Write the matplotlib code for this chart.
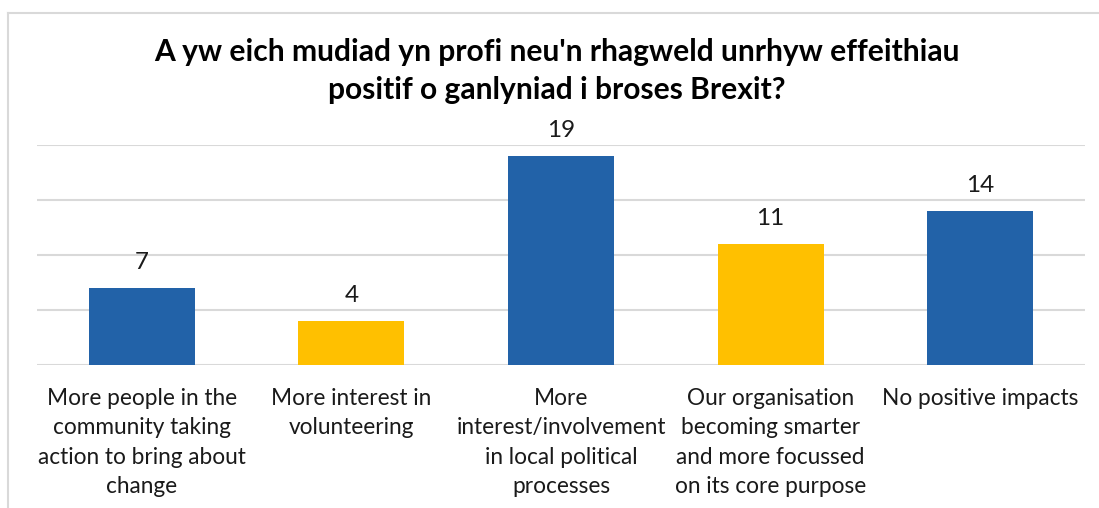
import matplotlib
matplotlib.use("Agg")
import matplotlib.pyplot as plt
from matplotlib.lines import Line2D

categories = [
    "More people in the\ncommunity taking\naction to bring about\nchange",
    "More interest in\nvolunteering",
    "More\ninterest/involvement\nin local political\nprocesses",
    "Our organisation\nbecoming smarter\nand more focussed\non its core purpose",
    "No positive impacts",
]
values = [7, 4, 19, 11, 14]
bar_colors = ["#2262A8", "#FFC000", "#2262A8", "#FFC000", "#2262A8"]
title_lines = [
    "A yw eich mudiad yn profi neu'n rhagweld unrhyw effeithiau",
    "positif o ganlyniad i broses Brexit?",
]

W, H = 1099, 508
plt.rcParams['font.family'] = ['Lato', 'DejaVu Sans']
fig = plt.figure(figsize=(W / 100, H / 100), dpi=100)

left, right, bottom, top = 37, 1085, 365, 145
ax = fig.add_axes([left / W, 1 - bottom / H, (right - left) / W, (bottom - top) / H])

x = list(range(len(categories)))
ax.bar(x, values, width=0.505, color=bar_colors, zorder=3)
ax.set_xlim(-0.5, len(categories) - 0.5)
ax.set_ylim(0, 20)
ax.set_yticks([0, 5, 10, 15, 20])
ax.yaxis.grid(True, color="#D9D9D9", linewidth=1.5, zorder=0)
ax.tick_params(axis='y', left=False, labelleft=False)
ax.tick_params(axis='x', length=0, pad=16.5)
ax.set_xticks(x)
ax.set_xticklabels(categories, fontsize=16.3, color="#1a1a1a", linespacing=1.5)
for s in ax.spines.values():
    s.set_visible(False)

for xi, v in zip(x, values):
    ax.annotate(str(v), (xi, v), xytext=(0, 13.7), textcoords='offset points',
                ha='center', va='baseline', fontsize=17.5, color="#1a1a1a")

fig.text(557 / W, 1 - 61 / H, title_lines[0], ha='center', va='baseline',
         fontsize=21.6, fontweight='bold', color='black')
fig.text(557 / W, 1 - 99 / H, title_lines[1], ha='center', va='baseline',
         fontsize=21.6, fontweight='bold', color='black')

fig.add_artist(Line2D([8 / W, 1], [1 - 13 / H, 1 - 13 / H], color="#D9D9D9", linewidth=1.5,
                      transform=fig.transFigure))
fig.add_artist(Line2D([8 / W, 8 / W], [0, 1 - 13 / H], color="#D9D9D9", linewidth=1.5,
                      transform=fig.transFigure))

fig.savefig("out.png", dpi=100)
